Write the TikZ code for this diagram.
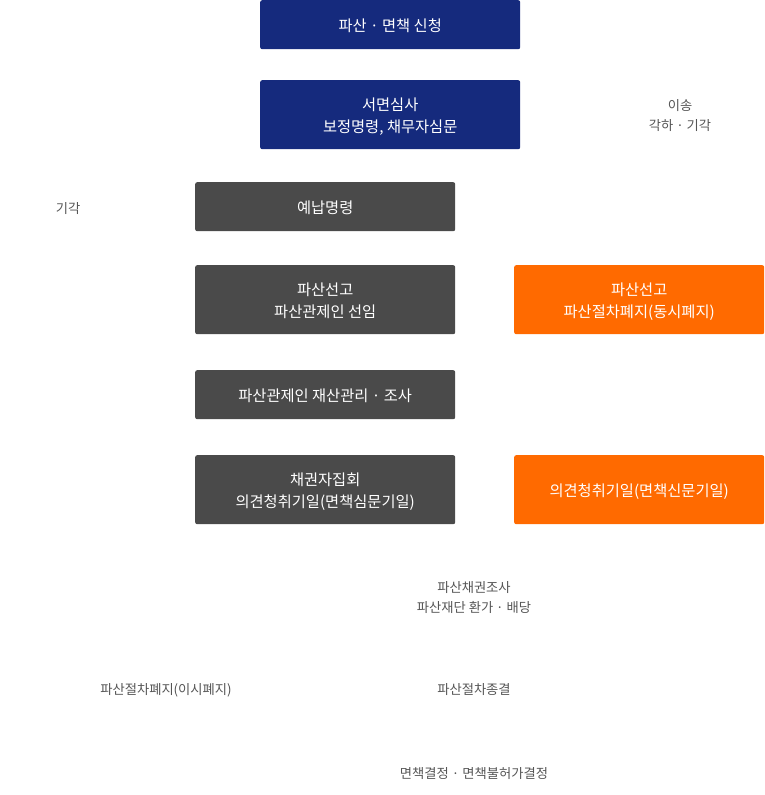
\documentclass[tikz,border=0pt]{standalone}
\usepackage{fontspec}
\setmainfont{Noto Sans CJK KR}
\definecolor{navy}{HTML}{152A7D}
\definecolor{dgray}{HTML}{4A4A4A}
\definecolor{orng}{HTML}{FF6A00}
\definecolor{lbl}{HTML}{555555}
\begin{document}
\begin{tikzpicture}[x=1pt,y=-1pt,
  boxbase/.style={rounded corners=2pt,text=white,align=center,inner sep=0pt,
    font=\fontsize{15.3}{22}\selectfont,anchor=north west,text depth=0pt},
  navybox/.style={boxbase,fill=navy},
  graybox/.style={boxbase,fill=dgray},
  orangebox/.style={boxbase,fill=orng},
  lab/.style={text=lbl,align=center,inner sep=0pt,font=\fontsize{13.3}{20}\selectfont}]
\useasboundingbox (0,0) rectangle (764,795);
\node[navybox,minimum width=260pt,minimum height=49pt] (apply) at (260,0) {파산 · 면책 신청};
\node[navybox,minimum width=260pt,minimum height=69pt] (review) at (260,80) {서면심사\\보정명령, 채무자심문};
\node[graybox,minimum width=260pt,minimum height=49pt] (prepay) at (195,182) {예납명령};
\node[graybox,minimum width=260pt,minimum height=69pt] (declare) at (195,265) {파산선고\\파산관제인 선임};
\node[orangebox,minimum width=250pt,minimum height=69pt] (abolish) at (514,265) {파산선고\\파산절차폐지(동시폐지)};
\node[graybox,minimum width=260pt,minimum height=49pt] (manage) at (195,370) {파산관제인 재산관리 · 조사};
\node[graybox,minimum width=260pt,minimum height=69pt] (meeting) at (195,455) {채권자집회\\의견청취기일(면책심문기일)};
\node[orangebox,minimum width=250pt,minimum height=69pt] (hearing) at (514,455) {의견청취기일(면책신문기일)};
\node[lab] (transfer) at (680,116) {이송\\각하 · 기각};
\node[lab] (reject) at (68,209) {기각};
\node[lab] (claims) at (474,598) {파산채권조사\\파산재단 환가 · 배당};
\node[lab] (abol2) at (166,690) {파산절차폐지(이시폐지)};
\node[lab] (close) at (474,690) {파산절차종결};
\node[lab] (discharge) at (474,774) {면책결정 · 면책불허가결정};
\end{tikzpicture}
\end{document}
